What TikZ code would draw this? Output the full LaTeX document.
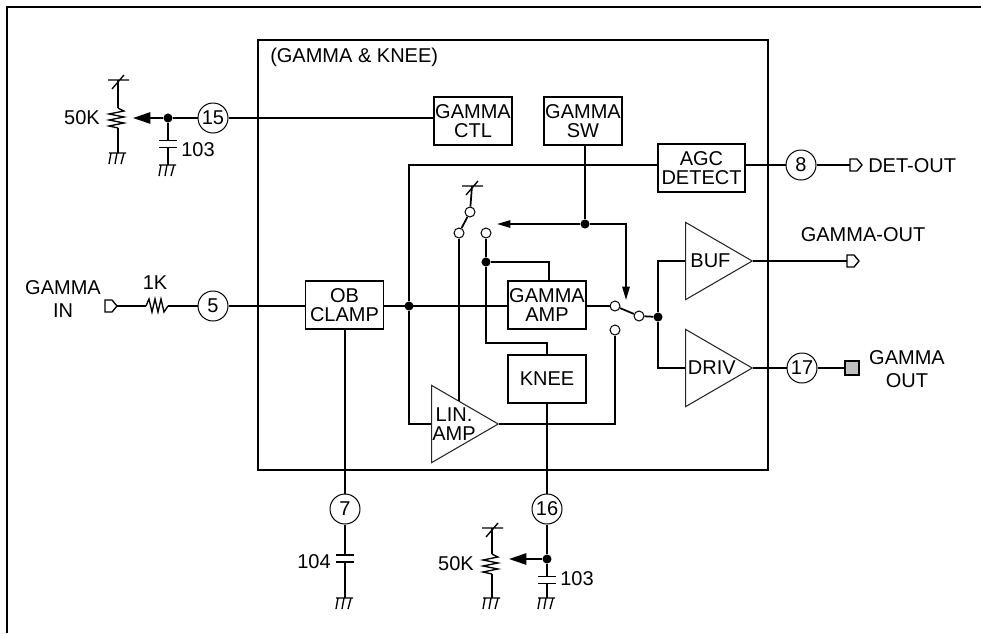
\documentclass[tikz,border=0pt]{standalone}
\usepackage{fontspec}
\setmainfont{Liberation Sans}
\usetikzlibrary{shapes,arrows.meta,positioning,calc}

\begin{document}
\begin{tikzpicture}[
  x=0.75pt,y=-0.75pt,
  wire/.style={line width=1.3pt},
  txt/.style={font=\fontsize{15}{14}\selectfont,inner sep=0,align=center},
  block/.style={rectangle,draw,line width=1.3pt,minimum width=58.5pt,minimum height=36pt,inner sep=0,align=center,font=\fontsize{15}{14}\selectfont},
  amp/.style={isosceles triangle,isosceles triangle apex angle=60,isosceles triangle stretches,draw=black!85,line width=0.8pt,minimum height=50pt,minimum width=58pt,inner sep=0,anchor=lower side,align=left,font=\fontsize{15}{14}\selectfont},
  pin/.style={circle,draw,line width=0.75pt,minimum size=22.5pt,inner sep=0,font=\fontsize{15}{14}\selectfont},
  contact/.style={circle,draw,fill=white,line width=0.75pt,minimum size=7.5pt,inner sep=0},
  dot/.style={circle,fill=black,minimum size=6.8pt,inner sep=0},
  bigtip/.style={-{Triangle[length=13pt,width=8.5pt]}},
  smalltip/.style={-{Triangle[length=10pt,width=5.5pt]}},
  vcc/.pic={\coordinate (-b) at (0,0);
    \draw[line width=1pt] (-10,0) -- (11,0) (-6,9) -- (6,-5);},
  gnd/.pic={\coordinate (-t) at (0,0);
    \draw[line width=1pt] (-9,0) -- (8,0) (-7,0) -- (-9,11) (-1,0) -- (-3,11) (6,0) -- (3,11);},
  vres/.pic={\coordinate (-t) at (0,-10); \coordinate (-b) at (0,10);
    \draw[line width=1pt] (0,-10) -- (6,-7) -- (-9,-4) -- (6,-1) -- (-9,2) -- (6,5) -- (-9,8) -- (0,10);},
  hres/.pic={\coordinate (-l) at (-11,0); \coordinate (-r) at (11,0);
    \draw[line width=1pt] (-11,0) -- (-8,-7) -- (-5,6) -- (-2,-7) -- (1,6) -- (4,-7) -- (7,6) -- (11,0);},
  capa/.pic={\coordinate (-t) at (0,-3.5); \coordinate (-b) at (0,3.5);
    \draw[wire] (-9,-3.5) -- (9,-3.5) (-9,3.5) -- (9,3.5);},
  port/.pic={\coordinate (-w) at (0,0); \coordinate (-e) at (12,0);
    \draw[line width=1pt,fill=white] (0,-6) -- (7,-6) -- (12,0) -- (7,6) -- (0,6) -- cycle;},
]
\useasboundingbox (0,0) rectangle (981,633);

\draw[wire] (7,633) -- (7,7) -- (981,7);
\node[rectangle,draw,line width=1.3pt,minimum width=382.5pt,minimum height=322.5pt] (ic) at (513,255) {};
\node[txt,anchor=west] (title) at (270,57) {(GAMMA \& KNEE)};

\node[block] (gctl) at (473,121) {GAMMA\\CTL};
\node[block] (gsw) at (583,121) {GAMMA\\SW};
\node[block,minimum width=65pt] (agc) at (701.5,168) {AGC\\DETECT};
\node[block] (clamp) at (344.5,305) {OB\\CLAMP};
\node[block] (gamp) at (547,305) {GAMMA\\AMP};
\node[block] (knee) at (547,379) {KNEE};
\node[amp] (lin) at (431,424) {};
\node[txt] (lintxt) at (454,424) {LIN.\\AMP};
\node[amp] (buf) at (685,261) {BUF};
\node[amp] (driv) at (685,368) {DRIV};

\node[pin] (p15) at (213,118) {15};
\node[pin] (p5) at (213,306) {5};
\node[pin] (p7) at (345,509) {7};
\node[pin] (p16) at (547,509) {16};
\node[pin] (p8) at (801,165) {8};
\node[pin] (p17) at (802,368) {17};

\node[dot] (d15) at (168,118) {};
\node[dot] (d16) at (547,559) {};
\node[dot] (dclamp) at (409,306) {};
\node[dot] (dsw) at (585,224) {};
\node[dot] (dgamp) at (486,262) {};
\node[dot] (dout) at (658,317) {};

\node[contact] (s1a) at (470,212) {};
\node[contact] (s1b) at (459,233) {};
\node[contact] (s1c) at (486,233) {};
\node[contact] (s2a) at (615,306) {};
\node[contact] (s2b) at (639,316) {};
\node[contact] (s2c) at (615,330) {};

\pic (v1) at (118,80) {vcc};
\pic (r1) at (118,118) {vres};
\pic (g1) at (118,153) {gnd};
\pic (c1) at (168,144) {capa};
\pic (g2) at (168,165) {gnd};
\pic (v2) at (472,186) {vcc};
\pic (c2) at (345,558.5) {capa};
\pic (g3) at (345,598) {gnd};
\pic (v3) at (492,528) {vcc};
\pic (r2) at (492,564) {vres};
\pic (g4) at (492,598) {gnd};
\pic (c3) at (547,580) {capa};
\pic (g5) at (547,598) {gnd};
\pic (r3) at (157,306) {hres};
\pic (t1) at (850,165) {port};
\pic (t2) at (847,261) {port};
\pic (t3) at (105,306) {port};

\node[rectangle,draw,line width=1.3pt,fill=black!25,minimum size=10.5pt,inner sep=0] (sq) at (852,368) {};

\coordinate (a1) at (133,118);
\coordinate (a2) at (509,559);
\coordinate (a3) at (497,224);
\coordinate (a4) at (626,300);
\coordinate (linsw) at (459,401);
\coordinate (kneein) at (547,343);

\draw[wire] (v1-b) -- (r1-t) (r1-b) -- (g1-t);
\draw[wire,bigtip] (d15) -- (a1);
\draw[wire] (p15) -- (d15);
\draw[wire] (d15) -- (c1-t) (c1-b) -- (g2-t);
\draw[wire] (p15) -- (p15 -| gctl.west);
\draw[wire] (p5) -- (p5 -| clamp.west);
\draw[wire] (r3-r) -- (p5);
\draw[wire] (t3-e) -- (r3-l);
\draw[wire] (p5 -| clamp.east) -- (p5 -| gamp.west);
\draw[wire] (gsw.south -| dsw) -- (dsw);
\draw[wire,smalltip] (dsw) -- (a3);
\draw[wire,smalltip] (dsw) -| (a4);
\draw[wire] (agc.west |- p8) -- (dclamp |- p8) -- (dclamp) -- (dclamp |- lin.lower side) -- (lin.lower side);
\draw[wire] (agc.east |- p8) -- (p8);
\draw[wire] (p8) -- (t1-w);
\draw[wire] (v2-b) -- (s1a);
\draw[wire] (s1a) -- (s1b);
\draw[wire] (s1b) -- (linsw);
\draw[wire] (s1c) -- (dgamp);
\draw[wire] (dgamp) |- (kneein) -- (knee.north);
\draw[wire] (dgamp) -| ([xshift=1.5pt]gamp.north);
\draw[wire] (gamp.east |- s2a) -- (s2a);
\draw[wire] (s2a) -- (s2b);
\draw[wire] (s2b) -- (dout);
\draw[wire] (s2c) |- (lin.apex);
\draw[wire] (buf.lower side) -| (dout);
\draw[wire] (driv.lower side) -| (dout);
\draw[wire] (buf.apex) -- (t2-w);
\draw[wire] (driv.apex) -- (p17);
\draw[wire] (p17) -- (sq);
\draw[wire] (knee.south) -- (p16);
\draw[wire] (clamp.south -| p7) -- (p7);
\draw[wire] (p7) -- (c2-t) (c2-b) -- (g3-t);
\draw[wire] (p16) -- (d16);
\draw[wire] (d16) -- (c3-t) (c3-b) -- (g5-t);
\draw[wire,bigtip] (d16) -- (a2);
\draw[wire] (v3-b) -- (r2-t) (r2-b) -- (g4-t);

\node[txt,anchor=east] (l50a) at (100,118) {50K};
\node[txt,anchor=west] (l103a) at (181,150) {103};
\node[txt,anchor=east] (l104) at (331,562) {104};
\node[txt,anchor=east] (l50b) at (474,564) {50K};
\node[txt,anchor=west] (l103b) at (560,579) {103};
\node[txt] (l1k) at (155,283) {1K};
\node[txt] (lin1) at (63,299) {GAMMA\\[3.5pt]IN};
\node[txt,anchor=west] (ldet) at (868,166) {DET-OUT};
\node[txt] (lgo) at (863,235) {GAMMA-OUT};
\node[txt] (lout) at (907,369) {GAMMA\\[3.5pt]OUT};

\end{tikzpicture}
\end{document}
